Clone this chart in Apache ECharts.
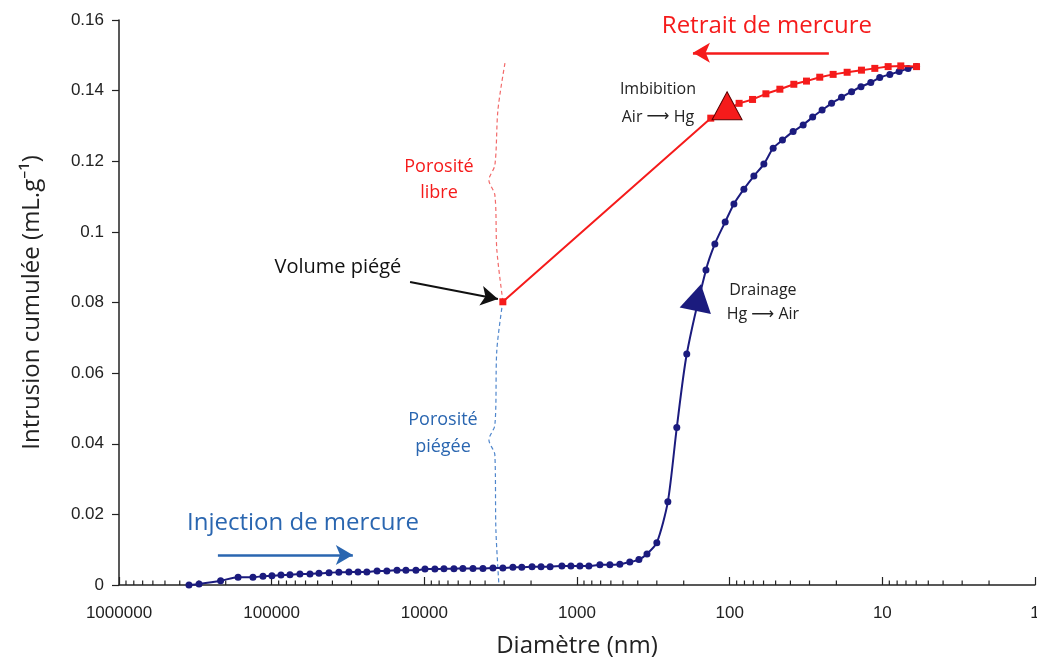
<!DOCTYPE html>
<html>
<head>
<meta charset="utf-8">
<script src="https://cdn.jsdelivr.net/npm/echarts@6/dist/echarts.min.js"></script>
<style>
  html, body { margin: 0; padding: 0; background: #fff; }
  #main { width: 1037px; height: 663px; }
</style>
</head>
<body>
<div id="main"></div>
<script>
// courbe de drainage (injection de mercure) : diamètre (nm) / volume (mL/g)
const drainDiam = [348000, 299000, 216000, 166000, 132600, 114000, 99600, 86900, 75900, 65300,
  56100, 49000, 42100, 36300, 31200, 27200, 23800, 20400, 17600, 15100,
  13200, 11350, 9900, 8530, 7440, 6400, 5590, 4800, 4130, 3550,
  3060, 2630, 2300, 1970, 1720, 1500, 1256, 1096, 957, 836,
  708, 609, 524, 451, 393, 348, 300, 254, 222, 191,
  143, 125, 107, 93.8, 80.7, 69.4, 59.7, 51.9, 45.1, 38.4,
  33.0, 28.6, 24.8, 21.5, 18.5, 15.9, 13.8, 11.9, 10.4, 8.93,
  7.76, 6.78, 5.97];
const drainVol = [0, 0.0003, 0.0012, 0.0022, 0.0022, 0.0025, 0.0026, 0.0028, 0.0029, 0.0031,
  0.0031, 0.0033, 0.0035, 0.0036, 0.0037, 0.0037, 0.0037, 0.0040, 0.0040, 0.0042,
  0.0042, 0.0042, 0.0045, 0.0045, 0.0046, 0.0046, 0.0047, 0.0047, 0.0047, 0.0048,
  0.0048, 0.0050, 0.0050, 0.0052, 0.0052, 0.0052, 0.0054, 0.0054, 0.0054, 0.0054,
  0.0057, 0.0057, 0.0059, 0.0065, 0.0072, 0.0088, 0.0120, 0.0236, 0.0446, 0.0654,
  0.0892, 0.0966, 0.1028, 0.1079, 0.1121, 0.1158, 0.1192, 0.1237, 0.1260, 0.1284,
  0.1303, 0.1325, 0.1345, 0.1364, 0.1381, 0.1397, 0.1411, 0.1423, 0.1437, 0.1446,
  0.1454, 0.1463, 0.1468];

// courbe d'imbibition (retrait de mercure)
const imbDiam = [5.97, 7.57, 9.16, 11.2, 13.7, 17.0, 21.0, 25.7, 31.4, 38.0,
  46.9, 57.9, 70.8, 86.7, 133, 3060];
const imbVol = [0.1468, 0.1470, 0.1468, 0.1463, 0.1458, 0.1452, 0.1446, 0.1438, 0.1427, 0.1418,
  0.1404, 0.1391, 0.1375, 0.1364, 0.1322, 0.0802];

// accolades en pointillés (porosité libre / piégée)
const libreDiam = [2965, 3296, 3451, 3776, 3451, 3350, 3060];
const libreVol = [0.1478, 0.1345, 0.1189, 0.1147, 0.1104, 0.0949, 0.0804];
const piegeeDiam = [3060, 3350, 3451, 3776, 3451, 3398, 3246];
const piegeeVol = [0.0804, 0.0666, 0.0453, 0.0411, 0.0368, 0.0156, 0];

// flèches de sens (triangles)
const drainArrow = [161, 0.0814];
const imbArrow = [104, 0.1357];

const navy = '#1b1b7e';
const red = '#f51b1b';
const txtBlue = '#2a66b0';
const titleFont = '"Open Sans", "Noto Sans", sans-serif';

function zip(a, b) { return a.map((v, i) => [v, b[i]]); }

// graduations secondaires du log (2..9 x 10^k)
const minorTicks = [];
for (let k = 0; k < 6; k++) {
  for (let m = 2; m <= 9; m++) minorTicks.push([m * Math.pow(10, k), 0]);
}

let chart = echarts.init(document.getElementById('main'));

let option = {
  animation: false,
  grid: { left: 119, right: 2, top: 20, bottom: 78, outerBoundsMode: 'none', containLabel: false },
  xAxis: {
    type: 'log', logBase: 10, min: 1, max: 1000000, inverse: true,
    name: 'Diamètre (nm)', nameLocation: 'middle', nameGap: 49,
    nameTextStyle: { fontSize: 24, fontFamily: titleFont, color: '#222' },
    axisLine: { lineStyle: { color: '#222', width: 1.5 } },
    axisTick: { inside: true, length: 8, lineStyle: { color: '#222', width: 1.2 } },
    axisLabel: { fontSize: 17, color: '#222', margin: 20, fontFamily: '"Liberation Sans", Arial',
      formatter: function (v) { return String(v); } },
    splitLine: { show: false }
  },
  yAxis: {
    type: 'value', min: 0, max: 0.16, interval: 0.02,
    name: 'Intrusion cumulée (mL.g⁻¹)', nameLocation: 'middle', nameGap: 75, nameRotate: 90,
    nameTextStyle: { fontSize: 24, fontFamily: titleFont, color: '#222' },
    axisLine: { show: true, lineStyle: { color: '#222', width: 1.5 } },
    axisTick: { show: true, inside: false, length: 7, lineStyle: { color: '#222', width: 1.2 } },
    axisLabel: { fontSize: 17, color: '#222', margin: 15, fontFamily: '"Liberation Sans", Arial',
      formatter: function (v) { return String(+v.toFixed(2)); } },
    splitLine: { show: false }
  },
  series: [
    {
      name: 'minor', type: 'custom', data: minorTicks, silent: true, clip: false,
      renderItem: function (params, api) {
        let p = api.coord([api.value(0), 0]);
        return { type: 'line', shape: { x1: p[0], y1: p[1], x2: p[0], y2: p[1] - 4.5 },
          style: { stroke: '#222', lineWidth: 1.2 } };
      }
    },
    {
      name: 'libre', type: 'line', data: zip(libreDiam, libreVol), showSymbol: false, smooth: 0.3,
      silent: true, lineStyle: { color: '#f26a6a', width: 1.2, type: [4, 3] }
    },
    {
      name: 'piegee', type: 'line', data: zip(piegeeDiam, piegeeVol), showSymbol: false, smooth: 0.3,
      silent: true, lineStyle: { color: '#4f86cc', width: 1.2, type: [4, 3] }
    },
    {
      name: 'Drainage', type: 'line', data: zip(drainDiam, drainVol), smooth: 0.25,
      symbol: 'circle', symbolSize: 7, z: 3,
      itemStyle: { color: navy }, lineStyle: { color: navy, width: 2 }
    },
    {
      name: 'Imbibition', type: 'line', data: zip(imbDiam, imbVol),
      symbol: 'rect', symbolSize: 7, z: 4,
      itemStyle: { color: red }, lineStyle: { color: red, width: 2 },
      markLine: {
        silent: true, symbol: ['none', 'arrow'], symbolSize: [15, 17], label: { show: false },
        data: [
          [{ coord: [22.4, 0.1507], lineStyle: { color: red, width: 2.5, type: 'solid' } },
           { coord: [174, 0.1507] }],
          [{ coord: [225000, 0.0085], lineStyle: { color: txtBlue, width: 2.5, type: 'solid' } },
           { coord: [29400, 0.0085] }],
          [{ coord: [12400, 0.0858], lineStyle: { color: '#111', width: 2.2, type: 'solid' } },
           { coord: [3296, 0.0810] }]
        ]
      }
    },
    {
      name: 'sensDrainage', type: 'scatter', data: [drainArrow], symbol: 'triangle',
      symbolSize: [32, 27], symbolRotate: -12, z: 5, itemStyle: { color: navy, opacity: 1 }
    },
    {
      name: 'sensImbibition', type: 'scatter', data: [imbArrow], symbol: 'triangle',
      symbolSize: [30, 28], z: 5, itemStyle: { color: red, opacity: 1, borderColor: '#5a0000', borderWidth: 1 }
    }
  ]
};

chart.setOption(option);

// textes d'annotation placés en coordonnées de données
const notes = [
  { text: 'Retrait de mercure', d: 57, v: 0.1583, color: red, size: 24 },
  { text: 'Imbibition', d: 295, v: 0.1402, color: '#222', size: 16 },
  { text: 'Air {a|⟶} Hg', d: 295, v: 0.1325, color: '#222', size: 16 },
  { text: 'Porosité', d: 8020, v: 0.1184, color: red, size: 18 },
  { text: 'libre', d: 8020, v: 0.1110, color: red, size: 18 },
  { text: 'Volume piégé', d: 36800, v: 0.0901, color: '#111', size: 20 },
  { text: 'Porosité', d: 7550, v: 0.0467, color: txtBlue, size: 18 },
  { text: 'piégée', d: 7550, v: 0.0391, color: txtBlue, size: 18 },
  { text: 'Injection de mercure', d: 62400, v: 0.0176, color: txtBlue, size: 24 },
  { text: 'Drainage', d: 60.6, v: 0.0835, color: '#222', size: 16 },
  { text: 'Hg {a|⟶} Air', d: 60.6, v: 0.0765, color: '#222', size: 16 }
];

chart.setOption({
  graphic: notes.map(function (n) {
    let p = chart.convertToPixel({ gridIndex: 0 }, [n.d, n.v]);
    return {
      type: 'text', x: p[0], y: p[1], silent: true,
      style: { text: n.text, fill: n.color, fontSize: n.size, fontFamily: titleFont,
        align: 'center', verticalAlign: 'middle',
        rich: { a: { fontFamily: 'DejaVu Sans', fontSize: n.size, fill: n.color } } }
    };
  })
});
</script>
</body>
</html>
